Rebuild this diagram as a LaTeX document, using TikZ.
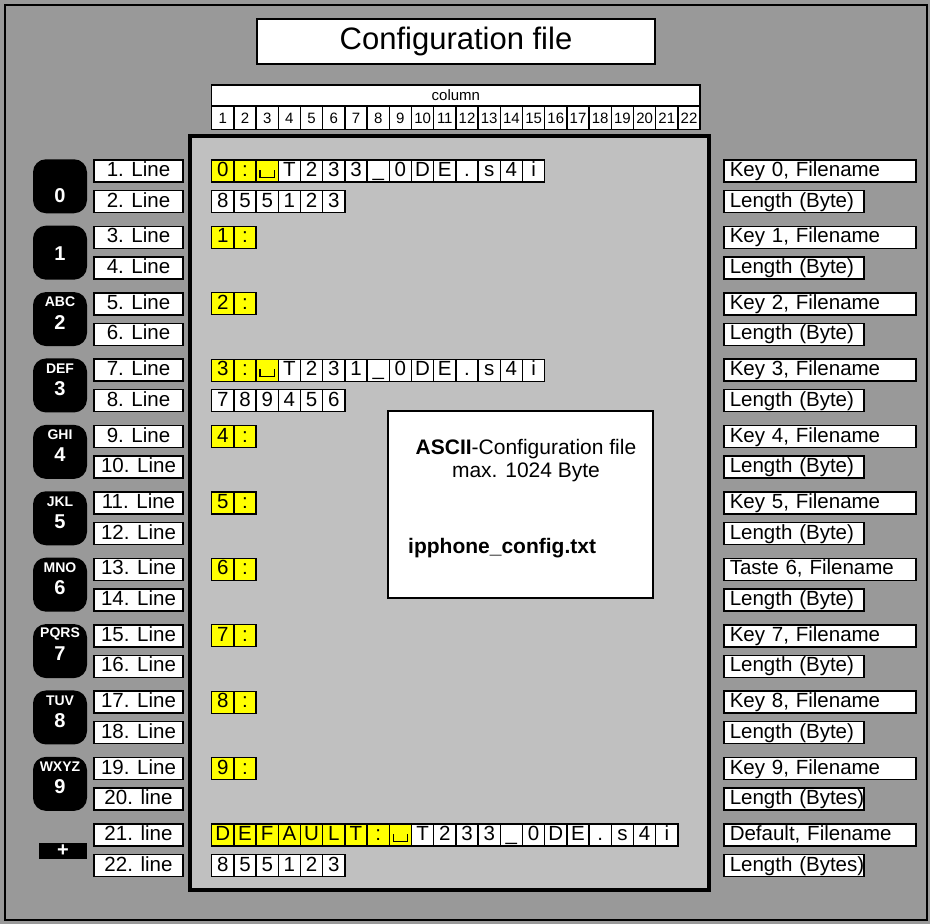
\documentclass[tikz,border=0pt]{standalone}
\usepackage{fontspec}
\setmainfont{Liberation Sans}
\definecolor{bg}{HTML}{999999}
\definecolor{panel}{HTML}{C0C0C0}
\definecolor{hl}{HTML}{FFFF00}
\newcommand\vspc{\lower1.5pt\hbox{\vrule width 1.3pt height 8pt\vrule width 13pt height 1.3pt\vrule width 1.3pt height 8pt}}
\newcommand\cellrow[4]{%
  \foreach \ch [count=\i] in {#4} {%
    \ifnum\i>#3\relax\def\cf{white}\else\def\cf{hl}\fi
    \node[cellbox,fill=\cf] (#1-\i) at ({222.8+(\i-1)*22.2},#2) {\ch};
  }}
\tikzset{
  cellbox/.style={draw,line width=1.3pt,minimum width=22.2pt,minimum height=22pt,inner sep=0pt,
    font=\fontsize{20.5}{22}\selectfont,text height=15pt,text depth=4pt},
  hdrbox/.style={draw,line width=1.3pt,fill=white,minimum width=22.2pt,minimum height=23pt,inner sep=0pt,
    font=\fontsize{15}{17}\selectfont},
  llbl/.style={draw,line width=1.5pt,fill=white,minimum width=89pt,minimum height=22pt,inner sep=0pt,
    font=\fontsize{20.5}{22}\selectfont,text height=15pt,text depth=4pt},
  rlbla/.style={draw,line width=1.5pt,fill=white,text width=180pt,inner xsep=6pt,inner ysep=0pt,
    minimum height=22pt,align=left,font=\fontsize{20.5}{22}\selectfont,text height=15pt,text depth=4pt},
  rlblb/.style={rlbla,text width=128pt},
  keybox/.style={fill=black,rounded corners=13pt,minimum width=54pt,minimum height=54pt,inner sep=0pt},
  keytxt/.style={text=white,font=\bfseries\fontsize{20}{22}\selectfont,inner sep=0pt},
  keylet/.style={text=white,font=\bfseries\fontsize{14}{16}\selectfont,inner sep=0pt},
}
\begin{document}
\begin{tikzpicture}[x=1pt,y=-1pt]
\useasboundingbox (0,0) rectangle (930,924);
\fill[bg] (0,0) rectangle (930,924);
\draw[line width=2pt] (5,5) rectangle (927,920);
% title
\node[draw,line width=1.5pt,fill=white,minimum width=398pt,minimum height=45pt,inner sep=0pt,
  font=\fontsize{31}{34}\selectfont] (title) at (456,41.5) {Configuration file};
% column header
\node[draw,line width=1.3pt,fill=white,minimum width=488.4pt,minimum height=21pt,inner sep=0pt,
  font=\fontsize{15}{17}\selectfont] (colhdr) at (455.9,95.5) {column};
\foreach \i in {1,...,22} {
  \node[hdrbox] (h-\i) at ({222.8+(\i-1)*22.2},118) {\i};
}
% main panel
\node[draw,line width=3.5pt,fill=panel,minimum width=519pt,minimum height=754pt,inner sep=0pt] (panel) at (449.5,513) {};
% info box
\node[draw,line width=1.5pt,fill=white,minimum width=265pt,minimum height=187pt,inner sep=0pt] (info) at (520.5,504.5) {};
\node[font=\fontsize{21}{23}\selectfont,align=center,inner sep=0pt] (info1) at (526,461)
  {\textbf{ASCII}-Configuration file\\max. 1024 Byte};
\node[font=\bfseries\fontsize{21}{23}\selectfont,anchor=west,inner sep=0pt] (info2) at (408,548) {ipphone\_config.txt};
% rows of cells
\cellrow{r0a}{171}{3}{0,:,\vspc,T,2,3,3,\_,0,D,E,.,s,4,i}
\cellrow{r0b}{201.5}{0}{8,5,5,1,2,3}
\cellrow{r1a}{237.4}{2}{1,:}
\cellrow{r2a}{303.8}{2}{2,:}
\cellrow{r3a}{370.2}{3}{3,:,\vspc,T,2,3,1,\_,0,D,E,.,s,4,i}
\cellrow{r3b}{400.7}{0}{7,8,9,4,5,6}
\cellrow{r4a}{436.6}{2}{4,:}
\cellrow{r5a}{503.0}{2}{5,:}
\cellrow{r6a}{569.4}{2}{6,:}
\cellrow{r7a}{635.8}{2}{7,:}
\cellrow{r8a}{702.2}{2}{8,:}
\cellrow{r9a}{768.6}{2}{9,:}
\cellrow{r10a}{835}{9}{D,E,F,A,U,L,T,:,\vspc,T,2,3,3,\_,0,D,E,.,s,4,i}
\cellrow{r10b}{865.5}{0}{8,5,5,1,2,3}
% left line labels
\foreach \k in {0,...,10} {
  \pgfmathtruncatemacro\la{2*\k+1}
  \pgfmathtruncatemacro\lb{2*\k+2}
  \pgfmathsetmacro\ya{171+66.4*\k}
  \pgfmathsetmacro\yb{201.5+66.4*\k}
  \ifnum\k<10
    \ifnum\k<9
      \node[llbl] (L\la) at (138.5,\ya) {\la. Line};
      \node[llbl] (L\lb) at (138.5,\yb) {\lb. Line};
    \else
      \node[llbl] (L\la) at (138.5,\ya) {\la. Line};
      \node[llbl] (L\lb) at (138.5,\yb) {\lb. line};
    \fi
  \else
    \node[llbl] (L\la) at (138.5,\ya) {\la. line};
    \node[llbl] (L\lb) at (138.5,\yb) {\lb. line};
  \fi
}
% right labels
\foreach \k/\t/\s in {0/Key 0/Byte,1/Key 1/Byte,2/Key 2/Byte,3/Key 3/Byte,4/Key 4/Byte,5/Key 5/Byte,
  6/Taste 6/Byte,7/Key 7/Byte,8/Key 8/Byte,9/Key 9/Bytes,10/Default/Bytes} {
  \pgfmathsetmacro\ya{171+66.4*\k}
  \pgfmathsetmacro\yb{201.5+66.4*\k}
  \node[rlbla,anchor=west] (R\k a) at (723,\ya) {\mbox{\t, Filename}};
  \node[rlblb,anchor=west] (R\k b) at (723,\yb) {\makebox[128pt][l]{Length (\s)}};
}
% keys
\foreach \k/\lt in {0/{},1/{},2/ABC,3/DEF,4/GHI,5/JKL,6/MNO,7/PQRS,8/TUV,9/WXYZ} {
  \pgfmathsetmacro\yc{186.25+66.4*\k}
  \node[keybox] (K\k) at (60,\yc) {};
  \ifnum\k<2
    \ifnum\k=0
      \node[keytxt] (K\k d) at (60,{\yc+9}) {\k};
    \else
      \node[keytxt] (K\k d) at (60,{\yc+1}) {\k};
    \fi
  \else
    \node[keylet] (K\k l) at (60,{\yc-17}) {\lt};
    \node[keytxt] (K\k d) at (60,{\yc+3}) {\k};
  \fi
}
\node[fill=black,minimum width=48pt,minimum height=16pt,inner sep=0pt] (Kplus) at (63,851) {};
\node[keytxt] (Kplusd) at (63,851) {+};
\end{tikzpicture}
\end{document}
